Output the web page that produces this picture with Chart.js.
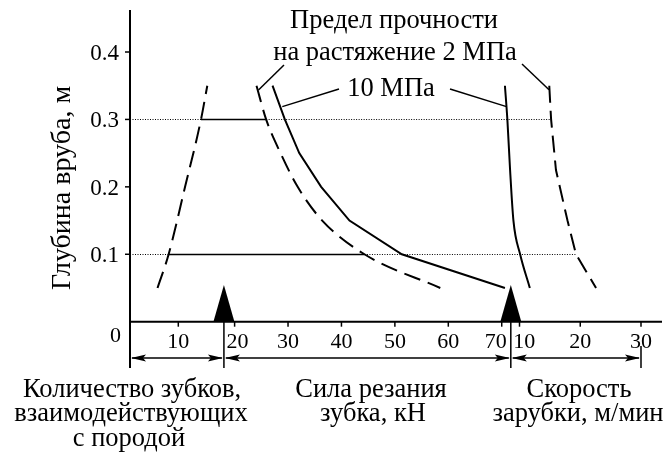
<!DOCTYPE html>
<html>
<head>
<meta charset="utf-8">
<script src="https://cdn.jsdelivr.net/npm/chart.js@4.4.1/dist/chart.umd.min.js"></script>
<style>
  body { margin: 0; background: #fff; }
  #box { width: 668px; height: 461px; position: relative; }
</style>
</head>
<body>
<div id="box"><canvas id="grafico"></canvas></div>
<script>
// --- dados ---
const depthTicks = [0.1, 0.2, 0.3, 0.4];
const teethTicks = [10];
const forceTicks = [20, 30, 40, 50, 60, 70];
const speedTicks = [10, 20, 30];

// количество зубков (штриховая, слева)
const teethDepth = [0.05, 0.1, 0.2, 0.3, 0.35];
const teethCount = [5.7, 8.0, 11.4, 14.7, 16.0];

// сила резания, 2 МПа (штриховая) и 10 МПа (сплошная)
const forceDepth = [0.35, 0.30, 0.25, 0.20, 0.15, 0.10, 0.05];
const force2 = [24.1, 25.9, 28.6, 31.8, 36.4, 44.3, 58.5];
const force10 = [27.1, 29.4, 32.1, 36.2, 41.5, 51.3, 70.6];

// скорость зарубки
const speedDepth = [0.35, 0.30, 0.225, 0.15, 0.10, 0.05];
const speed2 = [14.9, 15.2, 16.0, 17.9, 19.3, 22.6];
const speed10 = [7.6, 8.0, 8.45, 9.0, 10.1, 11.7];

// уровни вспомогательных линий и границы шкал (в кН)
const guideDepths = [0.1, 0.3];
const bounds = [18.0, 71.7];

const FONT = '"Liberation Serif", "Times New Roman", serif';

function pts(xs, ys) { return xs.map((x, i) => ({ x: x, y: ys[i] })); }

function serie(xs, ys, eixo, tracejado, suave) {
    return {
        data: pts(xs, ys),
        xAxisID: eixo,
        showLine: true,
        borderColor: '#000',
        borderWidth: 2,
        borderDash: tracejado ? [17, 8] : [],
        pointRadius: 0,
        cubicInterpolationMode: suave ? 'monotone' : 'default',
        tension: 0
    };
}

function at(xs, ys, d) { return xs[ys.indexOf(d)]; }

const desenho = {
    id: 'desenho',
    beforeDatasetsDraw(chart) {
        const c = chart.ctx, y = chart.scales.y;
        const xt = chart.scales.xt, xf = chart.scales.xf, xs = chart.scales.xs;
        const left = chart.chartArea.left;
        c.save();
        c.strokeStyle = '#000';
        guideDepths.forEach(d => {
            const py = Math.round(y.getPixelForValue(d)) + 0.5;
            const a = xt.getPixelForValue(at(teethCount, teethDepth, d));
            const b = xf.getPixelForValue(at(force2, forceDepth, d));
            const e = xs.getPixelForValue(at(speed2, speedDepth, d));
            c.lineWidth = 1;
            c.setLineDash([1, 1.5]);
            c.beginPath(); c.moveTo(left, py); c.lineTo(a, py); c.stroke();
            c.beginPath(); c.moveTo(b, py); c.lineTo(e, py); c.stroke();
            c.setLineDash([]);
            c.lineWidth = 1.5;
            c.beginPath(); c.moveTo(a, py); c.lineTo(b, py); c.stroke();
        });
        c.restore();
    },
    afterDatasetsDraw(chart) {
        const c = chart.ctx, y = chart.scales.y;
        const xt = chart.scales.xt, xf = chart.scales.xf, xs = chart.scales.xs;
        const area = chart.chartArea;
        const y0 = y.getPixelForValue(0);
        c.save();
        c.strokeStyle = '#000';
        c.fillStyle = '#000';
        c.lineWidth = 2;
        // eixos
        c.beginPath();
        c.moveTo(area.left, area.top); c.lineTo(area.left, 368);
        c.moveTo(area.left, y0); c.lineTo(area.right, y0);
        c.stroke();
        c.lineWidth = 1.5;
        c.font = '23px ' + FONT;
        c.textAlign = 'right';
        c.textBaseline = 'alphabetic';
        depthTicks.forEach(v => {
            const py = y.getPixelForValue(v);
            c.beginPath(); c.moveTo(area.left - 5, py); c.lineTo(area.left, py); c.stroke();
            c.fillText(v.toFixed(1), area.left - 11, py + 8);
        });
        c.font = '22px ' + FONT;
        c.fillText('0', area.left - 9, y0 + 20);

        const b1 = xf.getPixelForValue(bounds[0]);
        const b2 = xf.getPixelForValue(bounds[1]);
        const fim = xs.getPixelForValue(speedTicks[speedTicks.length - 1]);
        const ticks = [];
        teethTicks.forEach(v => ticks.push([xt.getPixelForValue(v), String(v), 'center']));
        forceTicks.forEach((v, i) => ticks.push([xf.getPixelForValue(v), String(v),
            i === 0 ? 'left' : (i === forceTicks.length - 1 ? 'right' : 'center')]));
        speedTicks.forEach((v, i) => ticks.push([xs.getPixelForValue(v), String(v), i === 0 ? 'left' : 'center']));
        ticks.forEach(([px, txt, al]) => {
            c.beginPath(); c.moveTo(px, y0); c.lineTo(px, y0 + 5); c.stroke();
            c.textAlign = al;
            let tx = px;
            if (al === 'left') tx = (px < b2 ? b1 : b2) + 2.5;
            if (al === 'right') tx = b2 - 4;
            c.fillText(txt, tx, y0 + 26);
        });

        // triângulos nas fronteiras
        [b1, b2].forEach(b => {
            c.beginPath();
            c.moveTo(b, 285); c.lineTo(b - 10.5, y0); c.lineTo(b + 10.5, y0);
            c.closePath(); c.fill();
        });
        // linhas de separação e setas
        c.lineWidth = 1.5;
        c.beginPath();
        c.moveTo(b1, 290); c.lineTo(b1, 368);
        c.moveTo(b2, 290); c.lineTo(b2, 368);
        c.moveTo(fim, 346); c.lineTo(fim, 368);
        c.stroke();
        const ay = 358;
        [[area.left, b1], [b1, b2], [b2, fim]].forEach(([p, q]) => {
            c.beginPath(); c.moveTo(p + 2, ay); c.lineTo(q - 2, ay); c.stroke();
            seta(c, p + 1, ay, 1);
            seta(c, q - 1, ay, -1);
        });

        // textos inferiores
        c.textAlign = 'center';
        c.font = '26.5px ' + FONT;
        c.fillText('Количество зубков,', 132, 397);
        c.fillText('взаимодействующих', 131, 421);
        c.fillText('с породой', 129, 446);
        c.fillText('Сила резания', 371, 397);
        c.fillText('зубка, кН', 373, 421);
        c.fillText('Скорость', 579, 397);
        c.fillText('зарубки, м/мин', 578, 421);

        // título do eixo y
        c.save();
        c.translate(70, 188);
        c.rotate(-Math.PI / 2);
        c.font = '28px ' + FONT;
        c.fillText('Глубина вруба, м', 0, 0);
        c.restore();

        // anotações de cima
        c.font = '26.5px ' + FONT;
        c.fillText('Предел прочности', 394, 28);
        c.fillText('на растяжение 2 МПа', 395, 60);
        c.fillText('10 МПа', 391, 96);
        c.lineWidth = 1.5;
        const guia = (x1, y1, eixo, v, d) => {
            c.beginPath(); c.moveTo(x1, y1);
            c.lineTo(chart.scales[eixo].getPixelForValue(v), y.getPixelForValue(d));
            c.stroke();
        };
        guia(284, 65, 'xf', 24.47, 0.3436);
        guia(339, 89, 'xf', 28.93, 0.319);
        guia(450, 89, 'xs', 7.86, 0.319);
        guia(522, 64, 'xs', 14.86, 0.344);
        c.restore();
    }
};

function seta(c, x, y, dir) {
    c.beginPath();
    c.moveTo(x, y);
    c.lineTo(x + dir * 15, y - 3.5);
    c.lineTo(x + dir * 12, y);
    c.lineTo(x + dir * 15, y + 3.5);
    c.closePath();
    c.fill();
}

const ctx = document.getElementById('grafico').getContext('2d');
new Chart(ctx, {
    type: 'scatter',
    data: {
        datasets: [
            serie(teethCount, teethDepth, 'xt', true, true),
            serie(force2, forceDepth, 'xf', true, true),
            serie(force10, forceDepth, 'xf', false, false),
            serie(speed2, speedDepth, 'xs', true, false),
            serie(speed10, speedDepth, 'xs', false, true)
        ]
    },
    options: {
        responsive: true,
        maintainAspectRatio: false,
        animation: false,
        layout: { padding: { left: 130, right: 6, top: 10, bottom: 139.3 } },
        plugins: { legend: { display: false }, tooltip: { enabled: false } },
        scales: {
            xt: { type: 'linear', display: false, min: 0, max: 110.14 },
            xf: { type: 'linear', display: false, min: 0.42, max: 100.0 },
            xs: { type: 'linear', display: false, min: -54.12, max: 33.457 },
            y: { type: 'linear', display: false, min: 0, max: 0.4623 }
        }
    },
    plugins: [desenho]
});
</script>
</body>
</html>
